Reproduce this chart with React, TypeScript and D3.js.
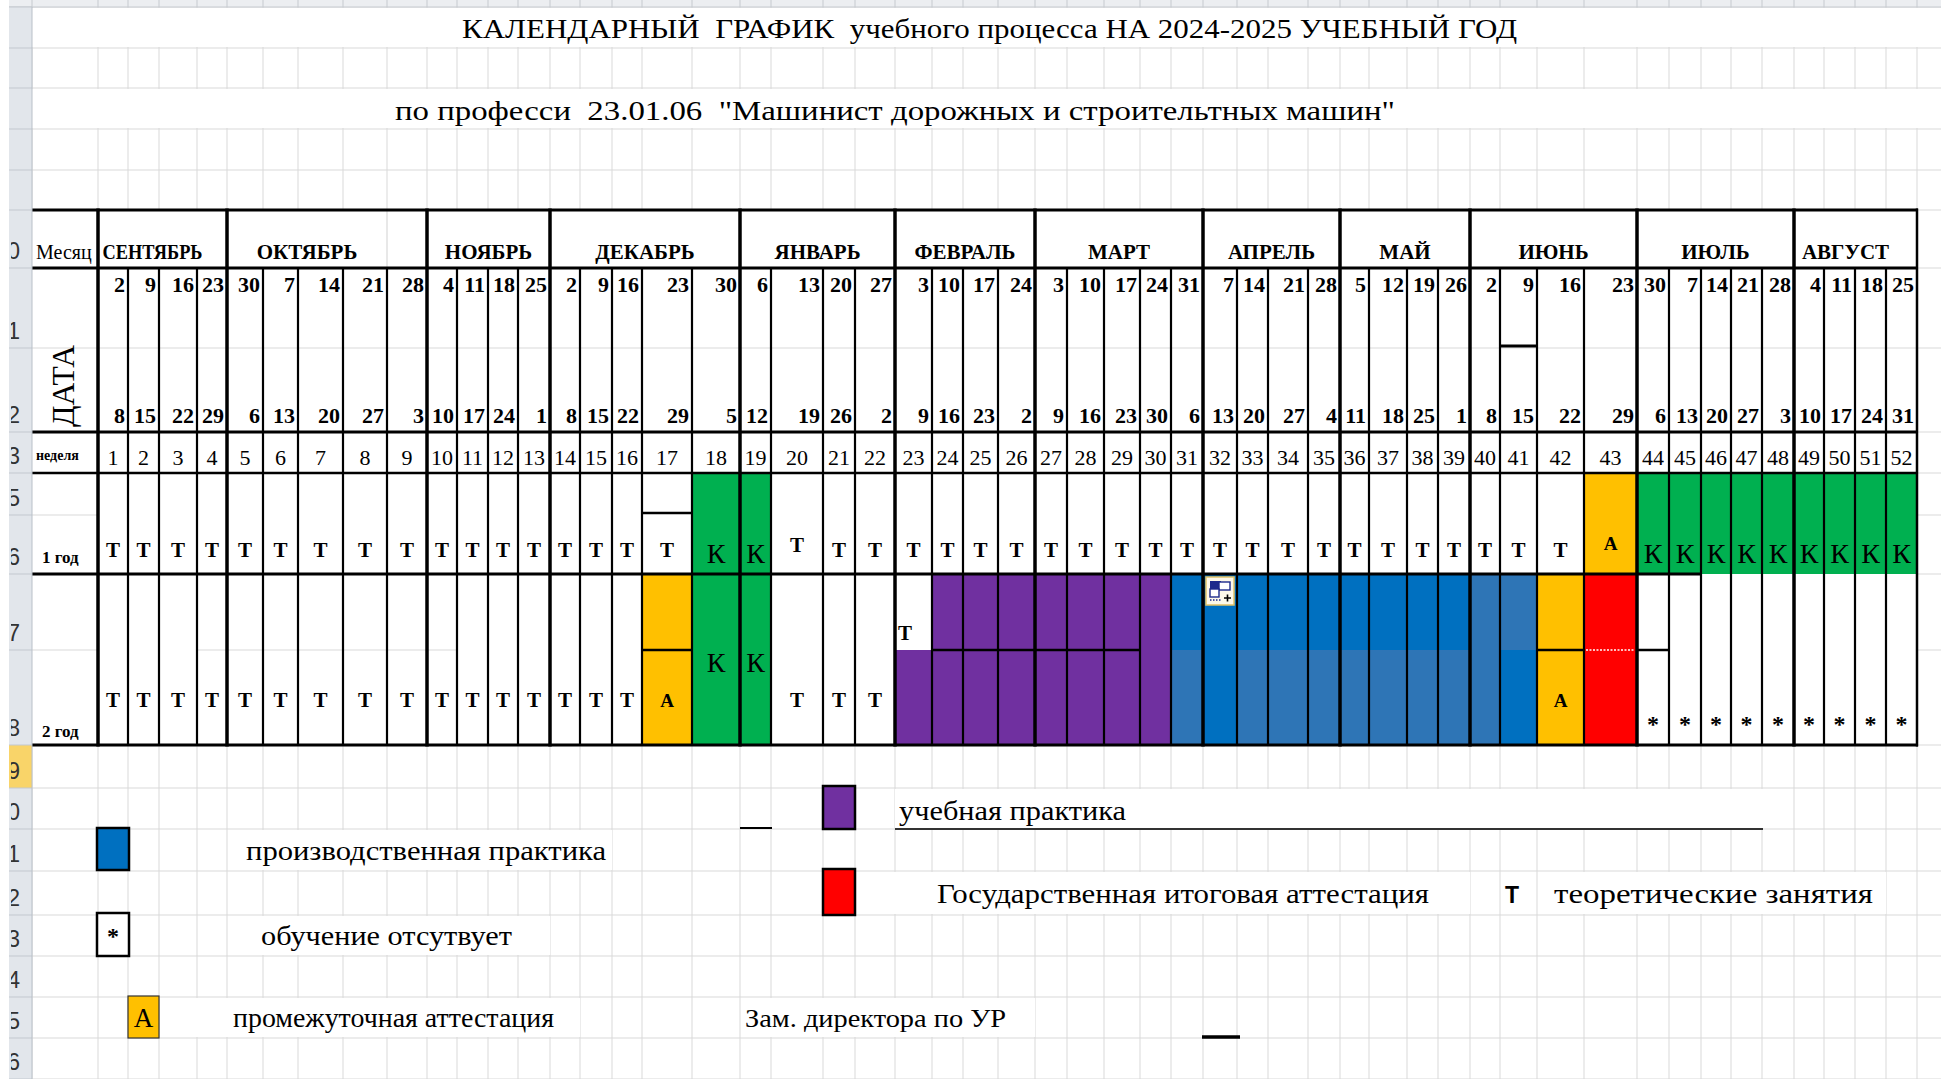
import React from 'react';
import * as d3 from 'd3';

// ---------- DATA ----------
const monthNames = ['СЕНТЯБРЬ', 'ОКТЯБРЬ', 'НОЯБРЬ', 'ДЕКАБРЬ', 'ЯНВАРЬ', 'ФЕВРАЛЬ', 'МАРТ', 'АПРЕЛЬ', 'МАЙ', 'ИЮНЬ', 'ИЮЛЬ', 'АВГУСТ'];
const monthWeekCounts = [4, 5, 4, 5, 4, 4, 5, 4, 4, 4, 5, 4];
const weekNumbers = [1, 2, 3, 4, 5, 6, 7, 8, 9, 10, 11, 12, 13, 14, 15, 16, 17, 18, 19, 20, 21, 22, 23, 24, 25, 26,
  27, 28, 29, 30, 31, 32, 33, 34, 35, 36, 37, 38, 39, 40, 41, 42, 43, 44, 45, 46, 47, 48, 49, 50, 51, 52];
const weekStartDays = [2, 9, 16, 23, 30, 7, 14, 21, 28, 4, 11, 18, 25, 2, 9, 16, 23, 30, 6, 13, 20, 27, 3, 10, 17, 24,
  3, 10, 17, 24, 31, 7, 14, 21, 28, 5, 12, 19, 26, 2, 9, 16, 23, 30, 7, 14, 21, 28, 4, 11, 18, 25];
const weekEndDays = [8, 15, 22, 29, 6, 13, 20, 27, 3, 10, 17, 24, 1, 8, 15, 22, 29, 5, 12, 19, 26, 2, 9, 16, 23, 2,
  9, 16, 23, 30, 6, 13, 20, 27, 4, 11, 18, 25, 1, 8, 15, 22, 29, 6, 13, 20, 27, 3, 10, 17, 24, 31];
// Т теория, К каникулы, А аттестация, У учебная практика, П/П2 производственная практика, Г ГИА, * нет обучения
const year1 = ['Т', 'Т', 'Т', 'Т', 'Т', 'Т', 'Т', 'Т', 'Т', 'Т', 'Т', 'Т', 'Т', 'Т', 'Т', 'Т', 'Т', 'К', 'К',
  'Т', 'Т', 'Т', 'Т', 'Т', 'Т', 'Т', 'Т', 'Т', 'Т', 'Т', 'Т', 'Т', 'Т', 'Т', 'Т', 'Т', 'Т', 'Т', 'Т', 'Т', 'Т', 'Т',
  'А', 'К', 'К', 'К', 'К', 'К', 'К', 'К', 'К', 'К'];
const year2Top = ['Т', 'Т', 'Т', 'Т', 'Т', 'Т', 'Т', 'Т', 'Т', 'Т', 'Т', 'Т', 'Т', 'Т', 'Т', 'Т', 'А', 'К', 'К',
  'Т', 'Т', 'Т', 'Т', 'У', 'У', 'У', 'У', 'У', 'У', 'У', 'П', 'П', 'П', 'П', 'П', 'П', 'П', 'П', 'П', 'П2', 'П2',
  'А', 'Г', '*', '*', '*', '*', '*', '*', '*', '*', '*'];
const year2Bottom = ['Т', 'Т', 'Т', 'Т', 'Т', 'Т', 'Т', 'Т', 'Т', 'Т', 'Т', 'Т', 'Т', 'Т', 'Т', 'Т', 'А', 'К', 'К',
  'Т', 'Т', 'Т', 'У', 'У', 'У', 'У', 'У', 'У', 'У', 'У', 'П2', 'П', 'П2', 'П2', 'П2', 'П2', 'П2', 'П2', 'П2', 'П2', 'П',
  'А', 'Г', '*', '*', '*', '*', '*', '*', '*', '*', '*'];
const rowHeaderDigits = ['0', '1', '2', '3', '5', '6', '7', '8', '9', '0', '1', '2', '3', '4', '5', '6'];

// ---------- LAYOUT ----------
const colWidthUnits = [30, 31, 38, 30, 36, 35, 45, 44, 40, 30, 31, 30, 32, 30, 32, 30, 50, 48, 31, 52, 32, 40, 37, 31, 35, 37,
  32, 37, 36, 31, 32, 34, 31, 40, 32, 29, 38, 31, 32, 30, 37, 47, 53, 32, 32, 30, 31, 32, 30, 31, 31, 31];
const sheetRowEdges = [7, 48, 88, 129, 170, 210, 268, 348, 432, 473, 515, 574, 650, 745, 788, 829, 871, 915, 956, 997, 1038, 1079];
const split2Weeks = [17, 24, 25, 26, 27, 28, 29, 42, 44];

const FILL: Record<string, string> = {
  'Т': '#ffffff', '*': '#ffffff', '': '#ffffff', 'К': '#00b050', 'А': '#ffc000', 'У': '#7030a0',
  'П': '#0070c0', 'П2': '#2e75b6', 'Г': '#ff0000',
};
const SERIF = "'Liberation Serif', 'Times New Roman', serif";
const SANS = "'Liberation Sans', Arial, sans-serif";
const GRID = '#d9d9d9';

export default function App() {
  React.useEffect(() => { document.body.style.margin = '0'; }, []);
  const W = 1941, H = 1079;
  const total = d3.sum(colWidthUnits);
  const x = d3.scaleLinear().domain([0, total]).range([98, 1917]);
  const edges = [0, ...Array.from(d3.cumsum(colWidthUnits))].map(v => x(v));
  const monthIdx = [0, ...Array.from(d3.cumsum(monthWeekCounts))];
  const monthEdgeSet = new Set(monthIdx);
  const Y = { top: 210, month: 268, dateMid: 348, date: 432, week: 473, y1Mid: 515, y1: 574, y2Mid: 650, y2: 745 };
  const sheetCols = [32, ...edges, 1960];

  const els: React.ReactNode[] = [];
  // grid background
  sheetCols.forEach((cx, i) => els.push(<line key={'gv' + i} x1={cx} x2={cx} y1={7} y2={H} stroke={GRID} strokeWidth={1} />));
  sheetRowEdges.forEach((ry, i) => els.push(<line key={'gh' + i} x1={32} x2={W} y1={ry} y2={ry} stroke={GRID} strokeWidth={1} />));
  // merged white areas
  const masks: [number, number, number, number][] = [
    [32, 8, W, 47], [32, 89, W, 128], [32, Y.top, 1917, Y.y2],
    [895, 789, 1763, 828], [228, 830, 612, 870], [856, 872, 1470, 914], [1538, 872, 1886, 914],
    [228, 916, 550, 955], [160, 998, 580, 1037], [741, 998, 1035, 1037],
  ];
  masks.forEach((m, i) => els.push(<rect key={'m' + i} x={m[0]} y={m[1]} width={m[2] - m[0]} height={m[3] - m[1]} fill="#fff" />));

  // cells
  weekNumbers.forEach((w, i) => {
    const x0 = edges[i], x1 = edges[i + 1];
    els.push(<rect key={'c1' + i} x={x0} y={Y.week} width={x1 - x0} height={Y.y1 - Y.week} fill={FILL[year1[i]]} />);
    els.push(<rect key={'c2t' + i} x={x0} y={Y.y1} width={x1 - x0} height={Y.y2Mid - Y.y1} fill={FILL[year2Top[i]]} />);
    els.push(<rect key={'c2b' + i} x={x0} y={Y.y2Mid} width={x1 - x0} height={Y.y2 - Y.y2Mid} fill={FILL[year2Bottom[i]]} />);
  });
  // light inner gridlines in table
  els.push(<line key="gl1" x1={32} x2={1917} y1={Y.dateMid} y2={Y.dateMid} stroke={GRID} strokeWidth={1.2} />);
  els.push(<line key="gl2" x1={32} x2={98} y1={Y.y1Mid} y2={Y.y1Mid} stroke={GRID} strokeWidth={1.2} />);
  els.push(<line key="gl3" x1={32} x2={98} y1={Y.y2Mid} y2={Y.y2Mid} stroke={GRID} strokeWidth={1.2} />);
  els.push(<line key="gl4" x1={edges[3]} x2={edges[10]} y1={Y.y2Mid} y2={Y.y2Mid} stroke={GRID} strokeWidth={1.2} />);
  els.push(<line key="gl5" x1={edges[8]} x2={edges[8]} y1={Y.top} y2={Y.month} stroke={GRID} strokeWidth={1.2} />);

  // black vertical lines
  edges.forEach((ex, i) => {
    const isMonth = monthEdgeSet.has(i) && i < 52;
    if (isMonth) els.push(<line key={'v' + i} x1={ex} x2={ex} y1={Y.top - 1.5} y2={Y.y2 + 1.5} stroke="#000" strokeWidth={3.5} />);
    else if (i === 52) els.push(<line key={'v' + i} x1={ex} x2={ex} y1={Y.top - 1.5} y2={Y.y2 + 1.5} stroke="#000" strokeWidth={2.5} />);
    else els.push(<line key={'v' + i} x1={ex} x2={ex} y1={Y.month} y2={Y.y2} stroke="#000" strokeWidth={2.2} />);
  });
  // black horizontal lines
  const hl = (k: string, x1: number, x2: number, y: number, w: number) =>
    els.push(<line key={k} x1={x1} x2={x2} y1={y} y2={y} stroke="#000" strokeWidth={w} />);
  hl('h0', 32, 1918, Y.top, 3.2);
  hl('h1', 32, 1918, Y.month, 3);
  hl('h2', 32, 1918, Y.date, 3);
  hl('h3', 32, 1918, Y.week, 2.5);
  hl('h4', 32, edges[45], Y.y1, 3);
  hl('h5', 32, 1918, Y.y2, 3.2);
  hl('s1', edges[16], edges[17], Y.y1Mid - 2, 2.5);
  hl('s2', edges[40], edges[41], Y.dateMid - 2, 3);
  split2Weeks.forEach(w => hl('sp' + w, edges[w - 1], edges[w], Y.y2Mid, 2.5));
  els.push(<line key="dot43" x1={edges[42] + 2} x2={edges[43] - 2} y1={Y.y2Mid} y2={Y.y2Mid} stroke="#fff" strokeWidth={1.5} strokeDasharray="2 1.5" />);

  // paste-options icon
  const ix = edges[31] + 3, iy = 577;
  els.push(
    <g key="icon">
      <rect x={ix} y={iy} width={28} height={28} fill="#fdf9ea" stroke="#e3c265" strokeWidth={1.5} />
      <rect x={ix + 4} y={iy + 4} width={11} height={9} fill="#1c2a8c" />
      <rect x={ix + 13} y={iy + 5} width={11} height={8} fill="#fff" stroke="#1c2a8c" strokeWidth={1.4} />
      <rect x={ix + 4} y={iy + 12} width={9} height={8} fill="#fff" stroke="#1c2a8c" strokeWidth={1.4} />
      <line x1={ix + 4} x2={ix + 16} y1={iy + 23} y2={iy + 23} stroke="#1c2a8c" strokeWidth={1.5} strokeDasharray="1.5 1.5" />
      <path d={`M${ix + 18},${iy + 21} h7 M${ix + 21.5},${iy + 17.5} v7`} stroke="#000" strokeWidth={1.6} />
    </g>
  );

  // texts: month names
  const monthDx = [-10, -20, 0, 0, 0, 0, 0, 0, 0, 0, 0, -10];
  monthNames.forEach((m, i) => {
    const cx = (edges[monthIdx[i]] + edges[monthIdx[i + 1]]) / 2 + monthDx[i];
    els.push(<text key={'mn' + i} x={cx} y={259} textAnchor="middle" fontFamily={SERIF} fontWeight="bold" fontSize={21}
      textLength={i === 0 ? 100 : undefined} lengthAdjust="spacingAndGlyphs">{m}</text>);
  });
  weekNumbers.forEach((w, i) => {
    const x0 = edges[i], x1 = edges[i + 1], cx = (x0 + x1) / 2;
    els.push(<text key={'ds' + i} x={x1 - 3} y={292} textAnchor="end" fontFamily={SERIF} fontWeight="bold" fontSize={22}>{weekStartDays[i]}</text>);
    els.push(<text key={'de' + i} x={x1 - 3} y={423} textAnchor="end" fontFamily={SERIF} fontWeight="bold" fontSize={22}>{weekEndDays[i]}</text>);
    els.push(<text key={'wn' + i} x={cx} y={465} textAnchor="middle" fontFamily={SERIF} fontSize={22}>{w}</text>);
    // year 1
    const c1 = year1[i];
    if (c1 === 'Т') els.push(<text key={'t1' + i} x={cx} y={i === 19 ? 552 : 557} textAnchor="middle" fontFamily={SERIF} fontWeight="bold" fontSize={21}>Т</text>);
    if (c1 === 'К') els.push(<text key={'t1' + i} x={cx} y={563} textAnchor="middle" fontFamily={SERIF} fontSize={28}>К</text>);
    if (c1 === 'А') els.push(<text key={'t1' + i} x={cx} y={550} textAnchor="middle" fontFamily={SERIF} fontWeight="bold" fontSize={19}>А</text>);
    // year 2
    const t = year2Top[i], b = year2Bottom[i];
    if (t === 'Т' && b === 'Т') els.push(<text key={'t2' + i} x={cx} y={707} textAnchor="middle" fontFamily={SERIF} fontWeight="bold" fontSize={21}>Т</text>);
    else if (t === 'Т') els.push(<text key={'t2' + i} x={x0 + 3} y={640} textAnchor="start" fontFamily={SERIF} fontWeight="bold" fontSize={21}>Т</text>);
    if (b === 'К') els.push(<text key={'t2' + i} x={cx} y={672} textAnchor="middle" fontFamily={SERIF} fontSize={28}>К</text>);
    if (b === 'А') els.push(<text key={'t2' + i} x={cx} y={707} textAnchor="middle" fontFamily={SERIF} fontWeight="bold" fontSize={19}>А</text>);
    if (b === '*') els.push(<text key={'t2' + i} x={cx} y={732} textAnchor="middle" fontFamily={SERIF} fontWeight="bold" fontSize={24}>*</text>);
  });

  // left labels
  els.push(
    <g key="labels">
      <clipPath id="lblclip"><rect x={32} y={Y.top} width={65} height={60} /></clipPath>
      <text x={36} y={259} fontFamily={SERIF} fontSize={20} clipPath="url(#lblclip)">Месяц</text>
      <text transform="translate(74,386) rotate(-90)" textAnchor="middle" fontFamily={SERIF} fontSize={32} textLength={82} lengthAdjust="spacingAndGlyphs">ДАТА</text>
      <text x={36} y={460} fontFamily={SERIF} fontWeight="bold" fontSize={14}>неделя</text>
      <text x={42} y={563} fontFamily={SERIF} fontWeight="bold" fontSize={17}>1 год</text>
      <text x={42} y={737} fontFamily={SERIF} fontWeight="bold" fontSize={17}>2 год</text>
    </g>
  );

  // title
  els.push(
    <g key="title">
      <text x={462} y={38} fontFamily={SERIF} fontSize={28} xmlSpace="preserve" style={{ whiteSpace: 'pre' }} textLength={1055} lengthAdjust="spacingAndGlyphs">{'КАЛЕНДАРНЫЙ  ГРАФИК  учебного процесса НА 2024-2025 УЧЕБНЫЙ ГОД'}</text>
      <text x={395} y={120} fontFamily={SERIF} fontSize={28} xmlSpace="preserve" style={{ whiteSpace: 'pre' }} textLength={1000} lengthAdjust="spacingAndGlyphs">{'по професси  23.01.06  "Машинист дорожных и строительтных машин"'}</text>
    </g>
  );

  // legend
  els.push(
    <g key="legend" fontFamily={SERIF}>
      <rect x={97} y={828} width={32} height={42} fill="#0070c0" stroke="#000" strokeWidth={2.5} />
      <text x={246} y={860} fontSize={27} textLength={360} lengthAdjust="spacingAndGlyphs">производственная практика</text>
      <rect x={97} y={913} width={32} height={43} fill="#fff" stroke="#000" strokeWidth={2.5} />
      <text x={113} y={944} textAnchor="middle" fontSize={24} fontWeight="bold">*</text>
      <text x={261} y={945} fontSize={27} textLength={251} lengthAdjust="spacingAndGlyphs">обучение отсутвует</text>
      <rect x={128} y={996} width={31} height={42} fill="#ffc000" stroke="#333" strokeWidth={1.2} />
      <text x={143.5} y={1027} textAnchor="middle" fontSize={27}>А</text>
      <text x={233} y={1027} fontSize={27} textLength={321} lengthAdjust="spacingAndGlyphs">промежуточная аттестация</text>
      <line x1={740} x2={772} y1={828} y2={828} stroke="#000" strokeWidth={2} />
      <rect x={823} y={786} width={32} height={43} fill="#7030a0" stroke="#000" strokeWidth={2.5} />
      <text x={899} y={820} fontSize={27} textLength={227} lengthAdjust="spacingAndGlyphs">учебная практика</text>
      <line x1={895} x2={1763} y1={829} y2={829} stroke="#333" strokeWidth={2} />
      <rect x={823} y={869} width={32} height={46} fill="#ff0000" stroke="#000" strokeWidth={2.5} />
      <text x={937} y={903} fontSize={27} textLength={492} lengthAdjust="spacingAndGlyphs">Государственная итоговая аттестация</text>
      <text x={1505} y={903} fontSize={23} fontWeight="bold" fontFamily={SANS}>Т</text>
      <text x={1554} y={903} fontSize={27} textLength={319} lengthAdjust="spacingAndGlyphs">теоретические занятия</text>
      <text x={745} y={1027} fontSize={26} textLength={261} lengthAdjust="spacingAndGlyphs">Зам. директора по УР</text>
      <line x1={1202} x2={1240} y1={1037} y2={1037} stroke="#000" strokeWidth={3.5} />
    </g>
  );

  // sheet headers (row strip & column strip)
  const hdr: React.ReactNode[] = [];
  hdr.push(<rect key="colstrip" x={9} y={0} width={W - 9} height={7} fill="#eceef1" />);
  hdr.push(<line key="colstripb" x1={9} x2={W} y1={7} y2={7} stroke="#c6cacf" strokeWidth={1} />);
  sheetCols.forEach((cx, i) => hdr.push(<line key={'ct' + i} x1={cx} x2={cx} y1={0} y2={7} stroke="#c6cacf" strokeWidth={1} />));
  hdr.push(<rect key="rowstrip" x={9} y={7} width={23} height={H - 7} fill="#e2e6eb" />);
  hdr.push(<rect key="rowsel" x={9} y={745} width={23} height={43} fill="#f9d469" />);
  sheetRowEdges.forEach((ry, i) => hdr.push(<line key={'rs' + i} x1={9} x2={32} y1={ry} y2={ry} stroke="#c3c8cf" strokeWidth={1} />));
  hdr.push(<line key="rowstripr" x1={32} x2={32} y1={7} y2={H} stroke="#b9c0c8" strokeWidth={1} />);
  hdr.push(<clipPath key="rhclip" id="rhclip"><rect x={11} y={0} width={21} height={H} /></clipPath>);
  const labelled = sheetRowEdges.slice(5);
  rowHeaderDigits.forEach((d, i) => {
    const yb = labelled[i + 1] ?? H;
    hdr.push(<text key={'rd' + i} x={20} y={yb - 9} textAnchor="end" fontFamily={SANS} fontSize={23} fill="#333" clipPath="url(#rhclip)">{d}</text>);
  });

  return (
    <svg width={W} height={H} viewBox={`0 0 ${W} ${H}`} style={{ display: 'block', position: 'absolute', left: 0, top: 0, background: '#fff' }}>
      <rect x={0} y={0} width={W} height={H} fill="#fff" />
      {els}
      {hdr}
    </svg>
  );
}
